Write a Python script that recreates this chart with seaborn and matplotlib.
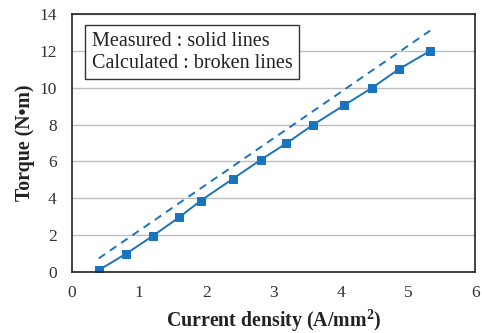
import matplotlib
matplotlib.use("Agg")
import matplotlib.pyplot as plt
import seaborn as sns
import pandas as pd

# Current density (A/mm^2) and torque (N·m)
current_density = [0.40, 0.81, 1.20, 1.60, 1.92, 2.40, 2.81, 3.19, 3.58, 4.05, 4.46, 4.86, 5.33]
torque_measured = [0.1, 1.0, 1.95, 2.98, 3.88, 5.07, 6.09, 6.98, 7.97, 9.05, 9.98, 11.0, 12.0]
torque_calculated = [0.74, 1.77, 2.74, 3.75, 4.55, 5.75, 6.78, 7.73, 8.71, 9.89, 10.92, 11.92, 13.1]

x_ticks = [0, 1, 2, 3, 4, 5, 6]
y_ticks = [0, 2, 4, 6, 8, 10, 12, 14]

sns.set_style("white")
plt.rcParams["font.family"] = ["Liberation Serif", "DejaVu Serif"]
plt.rcParams["mathtext.fontset"] = "custom"
plt.rcParams["mathtext.rm"] = "Liberation Serif"
plt.rcParams["mathtext.bf"] = "Liberation Serif:bold"

blue = "#1a73bd"

df_meas = pd.DataFrame({"J": current_density, "T": torque_measured})
df_calc = pd.DataFrame({"J": current_density, "T": torque_calculated})

fig = plt.figure(figsize=(4.82, 3.33), dpi=100)
ax = fig.add_axes([0.149, 0.183, 0.837, 0.775])

sns.lineplot(data=df_calc, x="J", y="T", ax=ax, color=blue, linewidth=1.4,
             linestyle=(0, (4, 3)), sort=False)
sns.lineplot(data=df_meas, x="J", y="T", ax=ax, color=blue, linewidth=1.4,
             marker="s", markersize=5.5, markeredgecolor=blue, sort=False)

ax.set_xlim(0, 6)
ax.set_ylim(0, 14)
ax.set_xticks(x_ticks)
ax.set_yticks(y_ticks)
ax.yaxis.grid(True, color="#bdbdbd", linewidth=1.0)
ax.set_axisbelow(True)

for s in ax.spines.values():
    s.set_color("#222222")
    s.set_linewidth(1.2)

ax.tick_params(axis="both", direction="in", length=4, width=1, colors="#222222",
               labelsize=12.5, labelcolor="#333333")
ax.tick_params(axis="x", pad=9)
ax.tick_params(axis="y", pad=11)

ax.set_xlabel("Current density (A/mm$^{\\mathbf{2}}$)", fontsize=14.3, fontweight="bold",
              color="#222222", labelpad=5)
ax.set_ylabel("Torque (N\u2022m)", fontsize=14.3, fontweight="bold", color="#222222", labelpad=3)

ax.text(0.05, 0.93, "Measured : solid lines\nCalculated : broken lines",
        transform=ax.transAxes, ha="left", va="top", fontsize=14.5, color="#222222",
        linespacing=1.2,
        bbox=dict(boxstyle="square,pad=0.33", facecolor="white", edgecolor="#333333", linewidth=1))

fig.savefig("out.png", dpi=100)
